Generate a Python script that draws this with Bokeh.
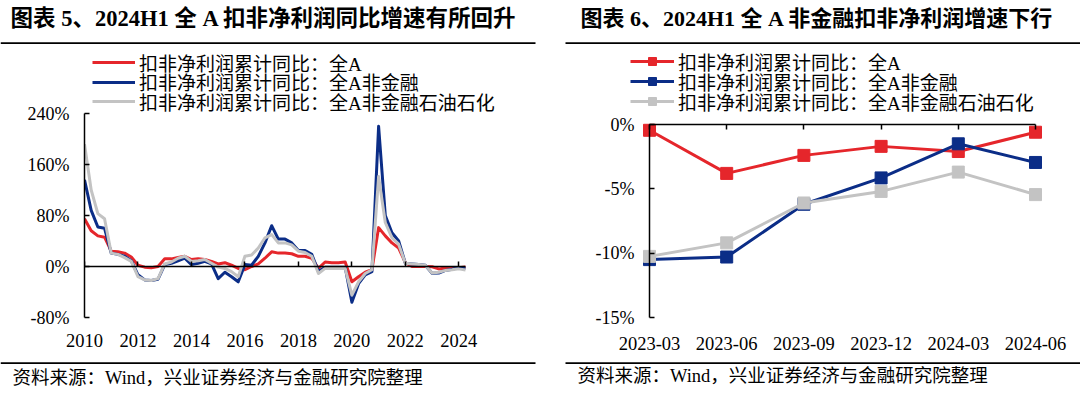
from bokeh.plotting import figure
from bokeh.models import (LinearAxis, FixedTicker, PrintfTickFormatter, Label,
                          BoxAnnotation, Legend, LegendItem, Range1d)
from bokeh.layouts import row, column
from bokeh.embed import file_html
from bokeh.resources import INLINE

# ---------------- data ----------------
quarter_idx = list(range(58))  # 2010Q1 .. 2024Q2

series_labels = ["扣非净利润累计同比：全A",
                 "扣非净利润累计同比：全A非金融",
                 "扣非净利润累计同比：全A非金融石油石化"]

red_all = [75, 56, 48, 46,
           24, 23, 21, 15,
           2, -1, -2, 0,
           12, 12, 14, 16,
           11, 12, 11, 8,
           4, 6, 2, -3,
           -5, 0, 4, 13,
           23, 21, 21, 20,
           16, 16, 13, -3,
           7, 6, 6, 7,
           -24, -16, -9, -5,
           61, 48, 37, 29,
           6, 0, 0, 0,
           -0.4, -3.8, -2.4, -1.7,
           -2.1, -0.6]

blue_nonfin = [136, 88, 62, 60,
               21, 19, 16, 9,
               -13, -21, -22, -20,
               3, 5, 9, 13,
               3, 5, 8, 4,
               -19, -9, -16, -24,
               3, 2, 16, 37,
               64, 43, 43, 37,
               25, 25, 19, -8,
               -1, -1, -1, -1,
               -56, -27, -13, -8,
               220, 80, 53, 40,
               5, 4, 3, 2,
               -10.5, -10.3, -6.2, -4.2,
               -1.5, -2.9]

gray_nonfin_exoil = [192, 120, 83, 75,
                     21, 19, 14, 8,
                     -16, -21, -22, -19,
                     4, 7, 13, 16,
                     8, 9, 11, 5,
                     -1, -3, -8, -16,
                     16, 18, 29, 45,
                     50, 37, 37, 34,
                     24, 22, 16, -11,
                     -3, -3, -3, -3,
                     -45, -24, -11, -5,
                     141, 69, 45, 35,
                     5, 4, 3, 2,
                     -10.3, -9.2, -6.1, -5.2,
                     -3.7, -5.4]

right_cats = ["2023-03", "2023-06", "2023-09", "2023-12", "2024-03", "2024-06"]
right_red = [-0.45, -3.8, -2.4, -1.7, -2.1, -0.6]
right_blue = [-10.5, -10.3, -6.2, -4.15, -1.5, -2.95]
right_gray = [-10.25, -9.2, -6.1, -5.2, -3.7, -5.45]

left_yticks = [-80, 0, 80, 160, 240]
left_xticks = [2010, 2012, 2014, 2016, 2018, 2020, 2022, 2024]
right_yticks = [-15, -10, -5, 0]

title_left = "图表 5、2024H1 全 A 扣非净利润同比增速有所回升"
title_right = "图表 6、2024H1 全 A 非金融扣非净利润增速下行"
source_text = "资料来源：Wind，兴业证券经济与金融研究院整理"

# ---------------- style / layout constants (page pixels) ----------------
RED = "#E5262B"
BLUE = "#0B2D87"
GRAY = "#C3C3C3"
FONT = "'Liberation Serif', 'Noto Sans CJK SC', serif"
TXT = "#000000"
PAGE_W = 1080
HEAD_H, CHART_TOP, CHART_BOT, PAGE_H = 45, 45, 358, 394
CHART_H = CHART_BOT - CHART_TOP
FOOT_H = PAGE_H - CHART_BOT
SPLIT = 527          # left chart figure width
FB = 329             # common frame bottom on page (frames in a row are aligned)
LEG_ROW_H = 27.4     # measured legend row height (19px CJK text)

x_left = [2010 + i / 4 for i in quarter_idx]
x_right = list(range(len(right_cats)))


def blank_fig(w, h):
    p = figure(width=w, height=h, title=None, x_range=Range1d(0, w), y_range=Range1d(0, h),
               x_axis_location=None, y_axis_location=None,
               output_backend="svg", toolbar_location=None, min_border=0)
    p.xgrid.visible = False
    p.ygrid.visible = False
    p.outline_line_color = None
    return p


def header(w, title, tx, sep_l, sep_r, size):
    p = blank_fig(w, HEAD_H)
    p.add_layout(Label(x=tx, y=HEAD_H - 18, text=title, text_font=FONT,
                       text_font_size=size, text_font_style="bold", text_color=TXT,
                       text_baseline="middle", text_align="left"))
    p.add_layout(BoxAnnotation(left=sep_l, right=sep_r, bottom=HEAD_H - 43.5, top=HEAD_H - 41.8,
                               fill_color="black", fill_alpha=1, line_color=None))
    return p


def footer(w, tx, ty, sep_l, sep_r):
    p = blank_fig(w, FOOT_H)
    p.add_layout(BoxAnnotation(left=sep_l, right=sep_r, bottom=FOOT_H - 5.5, top=FOOT_H - 3.8,
                               fill_color="black", fill_alpha=1, line_color=None))
    p.add_layout(Label(x=tx, y=FOOT_H - ty, text=source_text, text_font=FONT,
                       text_font_size="18.5px", text_color=TXT,
                       text_baseline="middle", text_align="left"))
    return p


def style_axis_labels(ax, size="18px"):
    ax.major_label_text_font = FONT
    ax.major_label_text_font_size = size
    ax.major_label_text_color = TXT


def hidden_labels(ax, ticks):
    ax.major_label_overrides = {t: "" for t in ticks}
    ax.major_label_text_font_size = "0px"
    ax.major_label_standoff = 0


def label_only_axis(ax, standoff):
    ax.axis_line_color = None
    ax.major_tick_line_color = None
    ax.minor_tick_line_color = None
    ax.major_tick_out = 0
    ax.major_tick_in = 0
    ax.major_label_standoff = standoff
    style_axis_labels(ax, "18.5px")


def row_legend(item, x, row_center, frame_bottom, glyph_w):
    return Legend(items=[item], location=(x, frame_bottom - (row_center + LEG_ROW_H / 2)),
                  orientation="vertical", margin=0, padding=0, spacing=0,
                  glyph_width=glyph_w, glyph_height=20, label_height=20, label_standoff=4,
                  label_text_font=FONT, label_text_font_size="19px", label_text_color=TXT,
                  border_line_color=None, background_fill_alpha=0)


# ---------------- left chart ----------------
LFL = 84                              # frame left on page
X2010, XEND = 84, 465                 # page x of 2010Q1 and 2024Q2
LFR = SPLIT                           # frame extends right so the legend fits
Y240, YM80 = 113, 317                 # page y of 240% and -80%
ppu_l = (YM80 - Y240) / 320.0
ppx_l = (XEND - X2010) / 14.25
p1 = figure(width=SPLIT, height=CHART_H, title=None,
            x_range=Range1d(2010, 2024.25 + (LFR - XEND) / ppx_l),
            y_range=Range1d(-80 - (FB - YM80) / ppu_l, 240 + (Y240 - CHART_TOP) / ppu_l),
            output_backend="svg", toolbar_location=None,
            min_border_left=LFL, min_border_right=SPLIT - LFR,
            min_border_top=0, min_border_bottom=CHART_BOT - FB)
p1.xgrid.visible = False
p1.ygrid.visible = False
p1.outline_line_color = None

xa = p1.xaxis[0]
xa.ticker = FixedTicker(ticks=left_xticks)
xa.formatter = PrintfTickFormatter(format="%d")
label_only_axis(xa, 4)

ya = p1.yaxis[0]
ya.ticker = FixedTicker(ticks=left_yticks)
ya.formatter = PrintfTickFormatter(format="%d%%")
ya.bounds = (-80, 240)
ya.major_tick_in = 5
ya.major_tick_out = 0
ya.minor_tick_line_color = None
ya.axis_line_width = 1.5
ya.major_tick_line_width = 1.5
ya.major_label_standoff = 15
style_axis_labels(ya)

zax = LinearAxis(fixed_location=0, bounds=(2010, 2024.25), ticker=FixedTicker(ticks=left_xticks),
                 major_tick_in=5, major_tick_out=0, minor_tick_line_color=None,
                 axis_line_width=1.5, major_tick_line_width=1.5)
hidden_labels(zax, left_xticks)
p1.add_layout(zax, "below")

r1 = p1.line(x_left, red_all, color=RED, line_width=3, line_join="round")
r2 = p1.line(x_left, blue_nonfin, color=BLUE, line_width=3, line_join="round")
r3 = p1.line(x_left, gray_nonfin_exoil, color=GRAY, line_width=3, line_join="round")

for r, lab, cy in zip([r1, r2, r3], series_labels, [62, 81.5, 101]):
    p1.add_layout(row_legend(LegendItem(label=lab, renderers=[r]), 92 - LFL, cy, FB, 43))

# ---------------- right chart ----------------
RW = PAGE_W - SPLIT
RFL, RFR = 585, 1072                  # frame edges on page
X0, X5 = 649, 1035                    # page x of first / last category
Y0, YM15 = 124, 317                   # page y of 0% and -15%
ppx = (X5 - X0) / 5.0
ppy = (YM15 - Y0) / 15.0
p2 = figure(width=RW, height=CHART_H, title=None,
            x_range=Range1d((RFL - X0) / ppx, 5 + (RFR - X5) / ppx),
            y_range=Range1d(-15 - (FB - YM15) / ppy, (Y0 - CHART_TOP) / ppy),
            output_backend="svg", toolbar_location=None,
            min_border_left=RFL - SPLIT, min_border_right=PAGE_W - RFR,
            min_border_top=0, min_border_bottom=CHART_BOT - FB)
p2.xgrid.visible = False
p2.ygrid.visible = False
p2.outline_line_color = None

xb = p2.xaxis[0]
xb.ticker = FixedTicker(ticks=x_right)
xb.major_label_overrides = {i: c for i, c in enumerate(right_cats)}
label_only_axis(xb, 7)

yb = p2.yaxis[0]
yb.fixed_location = 0
yb.bounds = (-15, 0)
yb.ticker = FixedTicker(ticks=right_yticks)
yb.formatter = PrintfTickFormatter(format="%d%%")
yb.major_tick_in = 5
yb.major_tick_out = 0
yb.minor_tick_line_color = None
yb.axis_line_width = 1.5
yb.major_tick_line_width = 1.5
yb.major_label_standoff = 15
style_axis_labels(yb)

tax = LinearAxis(fixed_location=0, bounds=(0, 5), ticker=FixedTicker(ticks=x_right),
                 major_tick_in=5, major_tick_out=0, minor_tick_line_color=None,
                 axis_line_width=1.5, major_tick_line_width=1.5)
hidden_labels(tax, x_right)
p2.add_layout(tax, "above")

rows_r = [61, 81, 101]
for vals, col, lab, cy in [(right_red, RED, series_labels[0], rows_r[0]),
                           (right_blue, BLUE, series_labels[1], rows_r[1]),
                           (right_gray, GRAY, series_labels[2], rows_r[2])]:
    ln = p2.line(x_right, vals, color=col, line_width=3)
    sc = p2.scatter(x_right, vals, marker="square", size=12, color=col)
    p2.add_layout(row_legend(LegendItem(label=lab, renderers=[ln, sc]), 630 - RFL, cy, FB, 44))

# ---------------- header / footer ----------------
hL = header(540, title_left, 10, 0, 535, "22.5px")
hR = header(540, title_right, 40, 25, 540, "22px")
fL = footer(540, 12, 19, 0, 535)
fR = footer(540, 37, 17, 25, 540)

layout = column(row(hL, hR, spacing=0), row(p1, p2, spacing=0), row(fL, fR, spacing=0), spacing=0)
open("out.html", "w").write(file_html(layout, INLINE))
